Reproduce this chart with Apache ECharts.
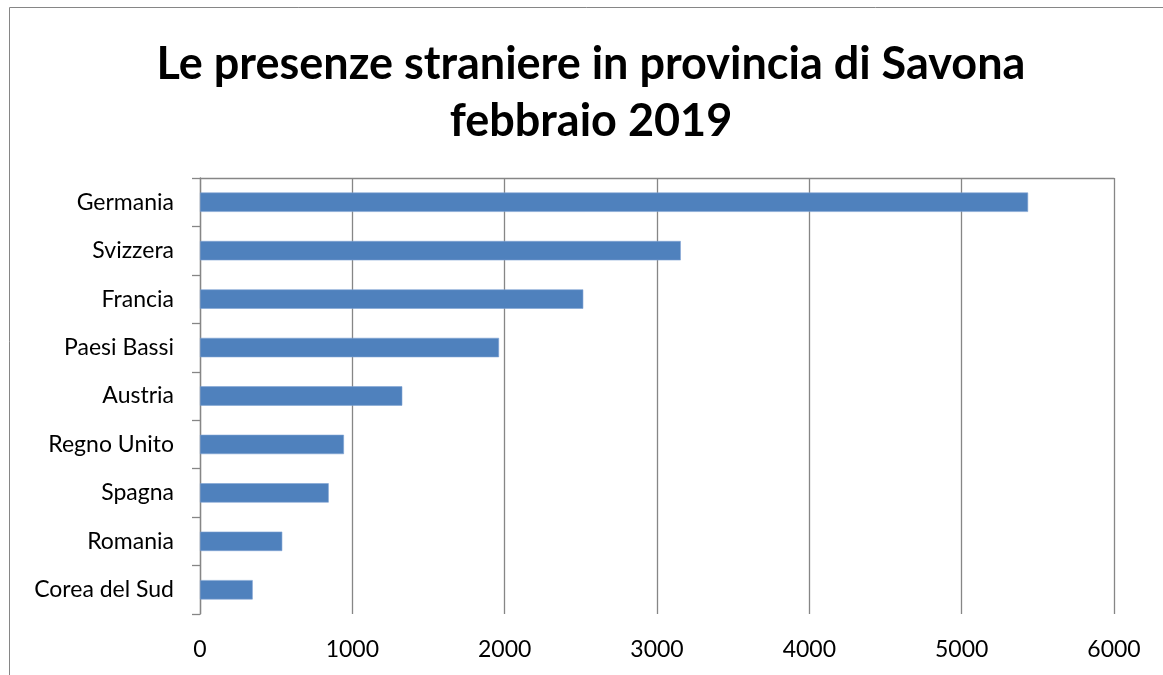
<!DOCTYPE html>
<html>
<head>
<meta charset="utf-8">
<script src="https://cdn.jsdelivr.net/npm/echarts@6/dist/echarts.min.js"></script>
<style>
  html, body { margin: 0; padding: 0; background: #fff; }
  #chart { width: 1163px; height: 675px; }
</style>
</head>
<body>
<div id="chart"></div>
<script>
const paesi = ['Germania', 'Svizzera', 'Francia', 'Paesi Bassi', 'Austria', 'Regno Unito', 'Spagna', 'Romania', 'Corea del Sud'];
const presenze = [5436, 3156, 2516, 1963, 1328, 945, 845, 540, 346];
const tickValori = [0, 1000, 2000, 3000, 4000, 5000, 6000];

const font = 'Lato';
const grigio = '#868686';

const chart = echarts.init(document.getElementById('chart'));

const option = {
  backgroundColor: '#fff',
  animation: false,
  title: {
    text: 'Le presenze straniere in provincia di Savona\nfebbraio 2019',
    left: 586,
    top: 31,
    textAlign: 'center',
    textStyle: {
      fontFamily: font,
      fontWeight: 'bold',
      fontSize: 45,
      lineHeight: 57,
      color: '#000'
    }
  },
  graphic: [{
    type: 'rect',
    shape: { x: 9.5, y: 7.5, width: 1200, height: 700 },
    style: { fill: null, stroke: grigio, lineWidth: 1 },
    silent: true
  }],
  grid: { left: 200, right: 49, top: 178, bottom: 61 },
  xAxis: [{
    type: 'value',
    position: 'bottom',
    min: tickValori[0],
    max: tickValori[tickValori.length - 1],
    interval: 1000,
    axisLine: { show: false },
    axisTick: { show: false },
    axisLabel: {
      margin: 24,
      fontFamily: font,
      fontSize: 23,
      color: '#000',
      formatter: v => String(v)
    },
    splitLine: { show: true, lineStyle: { color: grigio, width: 1.3 } }
  }, {
    type: 'value',
    position: 'top',
    min: tickValori[0],
    max: tickValori[tickValori.length - 1],
    interval: 1000,
    axisLine: { show: true, onZero: false, lineStyle: { color: grigio, width: 1.3 } },
    axisTick: { show: false },
    axisLabel: { show: false },
    splitLine: { show: false }
  }],
  yAxis: {
    type: 'category',
    inverse: true,
    data: paesi,
    axisLine: { show: true, lineStyle: { color: grigio, width: 1.3 } },
    axisTick: { show: true, length: 8, lineStyle: { color: grigio, width: 1.3 } },
    axisLabel: {
      margin: 26,
      fontFamily: font,
      fontSize: 23,
      color: '#000'
    }
  },
  series: [{
    type: 'bar',
    xAxisIndex: 0,
    data: presenze,
    barWidth: '40%',
    itemStyle: { color: '#4F81BD', borderColor: '#7FA3D3', borderWidth: 0.6 }
  }]
};

chart.setOption(option);
</script>
</body>
</html>
